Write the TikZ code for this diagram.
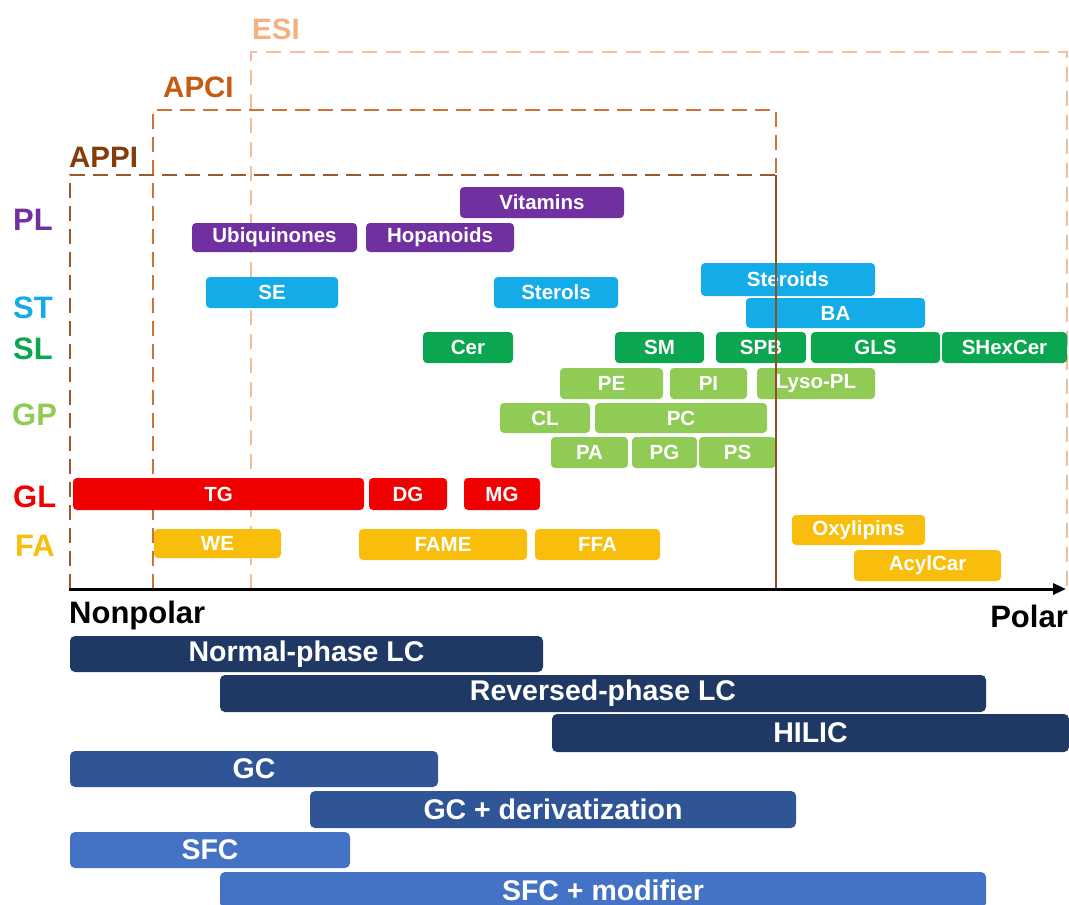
\documentclass[tikz,border=0pt]{standalone}
\usepackage{fontspec}
\setmainfont{Liberation Sans}
\usetikzlibrary{arrows.meta}

% lipid class colours
\definecolor{plc}{HTML}{7030A0}
\definecolor{stc}{HTML}{14ACE8}
\definecolor{slc}{HTML}{0BA650}
\definecolor{gpc}{HTML}{8FCB55}
\definecolor{glc}{HTML}{F00000}
\definecolor{fac}{HTML}{F9BD0C}
% separation technique colours
\definecolor{navy}{HTML}{1F3864}
\definecolor{midblue}{HTML}{2F5597}
\definecolor{lightblue}{HTML}{4472C4}
% ionisation source colours
\definecolor{esic}{HTML}{F4B183}
\definecolor{apcic}{HTML}{C55A11}
\definecolor{appic}{HTML}{843C0C}

\tikzset{
  lbarbox/.style={rectangle, rounded corners=4pt, inner sep=0pt, text=white,
    font=\bfseries\fontsize{20.5}{22}\selectfont},
  tbarbox/.style={rectangle, rounded corners=5pt, inner sep=0pt, text=white,
    font=\bfseries\fontsize{28.5}{30}\selectfont},
  classlabel/.style={anchor=base west, inner sep=0pt, font=\bfseries\fontsize{31}{33}\selectfont},
  srclabel/.style={anchor=base west, inner sep=0pt, font=\bfseries\fontsize{29.5}{31}\selectfont},
  axislabel/.style={inner sep=0pt, font=\bfseries\fontsize{31}{33}\selectfont},
  esibox/.style={draw=esic!85, line width=2pt, dash pattern=on 15pt off 9pt},
  apcibox/.style={draw=apcic!85, line width=2.5pt, dash pattern=on 15pt off 8pt},
  appibox/.style={draw=appic!85, line width=2.5pt, dash pattern=on 15pt off 8pt},
}

% \lipidbar{name}{x1}{y1}{x2}{y2}{colour}{text}
\newcommand\lipidbar[7]{%
  \node[lbarbox, fill=#6, minimum width={(#4-#2)*1pt}, minimum height={(#5-#3)*1pt}]
    (#1) at ({(#2+#4)/2},{(#3+#5)/2}) {#7};}
% \techbar{name}{x1}{y1}{x2}{y2}{colour}{text}
\newcommand\techbar[7]{%
  \node[tbarbox, fill=#6, minimum width={(#4-#2)*1pt}, minimum height={(#5-#3)*1pt}]
    (#1) at ({(#2+#4)/2},{(#3+#5)/2}) {#7};}

\begin{document}
\begin{tikzpicture}[x=1pt,y=-1pt]
\useasboundingbox[fill=white] (0,0) rectangle (1069,905);

% ionisation source ranges
\draw[esibox] (251,589) -- (251,52) -- (1067,52) -- (1067,589);
\draw[apcibox] (153,589) -- (153,110) -- (776,110) -- (776,175);
\draw[appibox] (70,589) -- (70,175) -- (776,175);

\node[srclabel, text=esic] (esi) at (252,39) {ESI};
\node[srclabel, text=apcic] (apci) at (163,97) {APCI};
\node[srclabel, text=appic] (appi) at (69,167) {APPI};

% lipid category labels
\node[classlabel, text=plc] (pl) at (13,230) {PL};
\node[classlabel, text=stc] (st) at (13,318) {ST};
\node[classlabel, text=slc] (sl) at (13,359) {SL};
\node[classlabel, text=gpc] (gp) at (12,425) {GP};
\node[classlabel, text=glc] (gl) at (13,507) {GL};
\node[classlabel, text=fac] (fa) at (15,556) {FA};

% prenol lipids
\lipidbar{vit}{460}{187}{624}{218}{plc}{Vitamins}
\lipidbar{ubi}{192}{223}{357}{252}{plc}{Ubiquinones}
\lipidbar{hop}{366}{223}{514}{252}{plc}{Hopanoids}
% sterol lipids
\lipidbar{se}{206}{277}{338}{308}{stc}{SE}
\lipidbar{sterols}{494}{277}{618}{308}{stc}{Sterols}
\lipidbar{steroids}{701}{263}{875}{296}{stc}{Steroids}
\lipidbar{ba}{746}{298}{925}{328}{stc}{BA}
% sphingolipids
\lipidbar{cer}{423}{332}{513}{363}{slc}{Cer}
\lipidbar{sm}{615}{332}{704}{363}{slc}{SM}
\lipidbar{spb}{716}{332}{806}{363}{slc}{SPB}
\lipidbar{gls}{811}{332}{940}{363}{slc}{GLS}
\lipidbar{shex}{942}{332}{1067}{363}{slc}{SHexCer}
% glycerophospholipids
\lipidbar{pe}{560}{368}{663}{399}{gpc}{PE}
\lipidbar{pi}{670}{368}{747}{399}{gpc}{PI}
\lipidbar{lyso}{757}{368}{875}{399}{gpc}{Lyso-PL}
\lipidbar{cl}{500}{403}{590}{433}{gpc}{CL}
\lipidbar{pc}{595}{403}{767}{433}{gpc}{PC}
\lipidbar{pa}{551}{437}{628}{468}{gpc}{PA}
\lipidbar{pg}{632}{437}{697}{468}{gpc}{PG}
\lipidbar{ps}{699}{437}{776}{468}{gpc}{PS}
% glycerolipids
\lipidbar{tg}{73}{478}{364}{510}{glc}{TG}
\lipidbar{dg}{369}{478}{447}{510}{glc}{DG}
\lipidbar{mg}{464}{478}{540}{510}{glc}{MG}
% fatty acyls
\lipidbar{we}{154}{529}{281}{558}{fac}{WE}
\lipidbar{fame}{359}{529}{527}{560}{fac}{FAME}
\lipidbar{ffa}{535}{529}{660}{560}{fac}{FFA}
\lipidbar{oxy}{792}{515}{925}{545}{fac}{Oxylipins}
\lipidbar{acyl}{854}{550}{1001}{581}{fac}{AcylCar}

% shared right edge of the APPI and APCI ranges
\coordinate (edgetop) at (776,175);
\coordinate (edgebot) at (776,589);
\draw[appic!90, line width=1.6pt] (edgetop) -- (edgebot);

% polarity axis
\coordinate (ax0) at (69,589);
\coordinate (ax1) at (1066,589);
\draw[line width=3pt, -{Triangle[length=13pt,width=11pt]}] (ax0) -- (ax1);
\node[axislabel, anchor=base west] (nonpolar) at (69,623) {Nonpolar};
\node[axislabel, anchor=base east] (polar) at (1068,627) {Polar};

% separation techniques
\techbar{nplc}{70}{636}{543}{672}{navy}{Normal-phase LC}
\techbar{rplc}{220}{675}{986}{712}{navy}{Reversed-phase LC}
\techbar{hilic}{552}{714}{1069}{752}{navy}{HILIC}
\techbar{gc}{70}{751}{438}{787}{midblue}{GC}
\techbar{gcd}{310}{791}{796}{828}{midblue}{GC + derivatization}
\techbar{sfc}{70}{832}{350}{868}{lightblue}{SFC}
\techbar{sfcm}{220}{872}{986}{908}{lightblue}{SFC + modifier}
\end{tikzpicture}
\end{document}
